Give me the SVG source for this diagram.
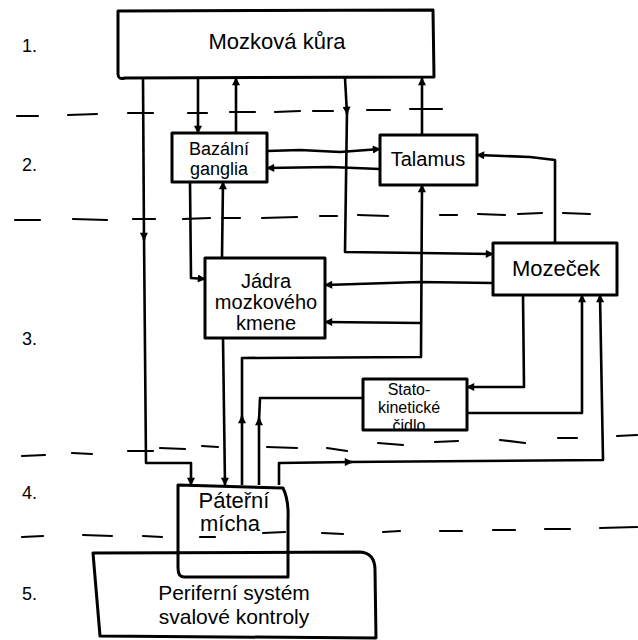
<svg xmlns="http://www.w3.org/2000/svg" width="638" height="640" viewBox="0 0 638 640">
<defs>
<marker id="ah" viewBox="0 0 10 10" refX="9" refY="5" markerUnits="userSpaceOnUse" markerWidth="9" markerHeight="8" orient="auto">
<path d="M0,0 L10,5 L0,10 z" fill="#000"/>
</marker>
<style>
.box{fill:none;stroke:#000;stroke-width:3;stroke-linejoin:round}
.c{fill:none;stroke:#000;stroke-width:2.6;stroke-linejoin:round}
.a{marker-end:url(#ah)}
.d{fill:none;stroke:#000;stroke-width:2.2;stroke-linecap:round}
text{font-family:"Liberation Sans",Arial,sans-serif;fill:#000;text-anchor:middle}
.lv{font-size:18px;text-anchor:start}
</style>
</defs>
<rect width="638" height="640" fill="#fff"/>

<g id="levels">
<text class="lv" x="22" y="52">1.</text>
<text class="lv" x="22" y="171">2.</text>
<text class="lv" x="22" y="345">3.</text>
<text class="lv" x="22" y="499">4.</text>
<text class="lv" x="22" y="600">5.</text>
</g>

<g id="separators">
<path class="d" d="M17,116 L38,116 M68,115 L97,114 M128,113 L153,113 M188,113 L207,113 M230,112 L255,112 M275,112 L300,111 M313,111 L333,111 M367,110 L390,110 M410,109 L442,109"/>
<path class="d" d="M15,220 L40,220 M73,219 L107,220 M133,219 L155,219 M183,219 L210,218 M222,218 L240,218 M262,218 L297,217 M320,216 L337,216 M358,215 L388,216 M440,215 L457,215 M478,214 L505,215 M518,214 L542,213 M563,213 L590,214"/>
<path class="d" d="M22,456 L45,455 M72,453 L92,454 M128,451 L153,451 M160,448 L185,449 M202,446 L218,447 M267,447 L297,448 M327,448 L347,451 M378,443 L403,445 M435,442 L458,441 M500,440 L525,443 M558,438 L577,438 M617,436 L637,435"/>
<path class="d" d="M22,537 L43,536 M83,535 L112,536 M143,536 L162,537 M200,537 L215,537 M263,533 L285,532 M322,533 L343,534 M383,532 L400,531 M440,531 L462,531 M493,530 L515,530 M545,529 L570,529 M600,528 L637,527"/>
</g>

<g id="connectors">
<path class="c a" d="M143,78 L144,240"/>
<path class="c a" d="M144,236 L146,463 L191,463 L191,485"/>
<path class="c a" d="M198,78 L198,133"/>
<path class="c a" d="M236,133 L236,78"/>
<path class="c a" d="M267,151 L300,150 L340,152 L380,149"/>
<path class="c a" d="M380,169 L330,167 L267,168"/>
<path class="c a" d="M345,78 L347,114"/>
<path class="c a" d="M347,110 L345,252 L420,253 L493,254"/>
<path class="c a" d="M422,135 L422,78"/>
<path class="c a" d="M555,243 L555,160 L530,157 L477,155"/>
<path class="c a" d="M190,182 L191,278 L205,279"/>
<path class="c a" d="M222,258 L223,182"/>
<path class="c a" d="M493,283 L420,282 L325,285"/>
<path class="c a" d="M242,485 L242,416"/>
<path class="c a" d="M242,420 L242,358 L421,357 L422,185"/>
<path class="c a" d="M421,323 L325,322"/>
<path class="c a" d="M223,338 L225,485"/>
<path class="c a" d="M259,485 L259,418"/>
<path class="c" d="M259,421 L260,398 L363,398"/>
<path class="c a" d="M523,295 L524,387 L467,387"/>
<path class="c a" d="M467,413 L582,413 L582,295"/>
<path class="c a" d="M279,485 L279,463 L352,462"/>
<path class="c a" d="M348,462 L603,460 L600,295"/>
</g>

<g id="mozkova-kura">
<path class="box" d="M118,11 L433,10 L434,77 L125,78 Q118,80 118,74 Z"/>
<text x="277" y="49" font-size="22">Mozková kůra</text>
</g>

<g id="bazalni-ganglia">
<rect class="box" x="172" y="133" width="95" height="49"/>
<text x="219" y="155" font-size="18">Bazální</text>
<text x="219" y="175" font-size="18">ganglia</text>
</g>

<g id="talamus">
<rect class="box" x="380" y="135" width="97" height="50"/>
<text x="428" y="166" font-size="20">Talamus</text>
</g>

<g id="mozecek">
<rect class="box" x="493" y="243" width="124" height="52"/>
<text x="556" y="276" font-size="22">Mozeček</text>
</g>

<g id="jadra">
<rect class="box" x="205" y="258" width="120" height="80"/>
<text x="266" y="288" font-size="20">Jádra</text>
<text x="266" y="309" font-size="20">mozkového</text>
<text x="266" y="330" font-size="20">kmene</text>
</g>

<g id="statokineticke-cidlo">
<text x="409" y="395" font-size="16">Stato-</text>
<text x="409" y="413" font-size="16">kinetické</text>
<text x="409" y="431" font-size="16">čidlo</text>
<rect class="box" x="363" y="379" width="104" height="51"/>
</g>

<g id="paterni-micha">
<path class="box" d="M178,485 L283,488 Q289,500 288,520 L288,577 L184,577 Q178,577 178,568 Z"/>
<text x="234" y="508" font-size="22">Páteřní</text>
<text x="230" y="531" font-size="22">mícha</text>
</g>

<g id="periferni-system">
<path class="box" d="M93,553 L360,552 Q375,553 375,570 L376,638 L100,636 Z"/>
<text x="234" y="600" font-size="21">Periferní systém</text>
<text x="234" y="624" font-size="21">svalové kontroly</text>
</g>
</svg>
